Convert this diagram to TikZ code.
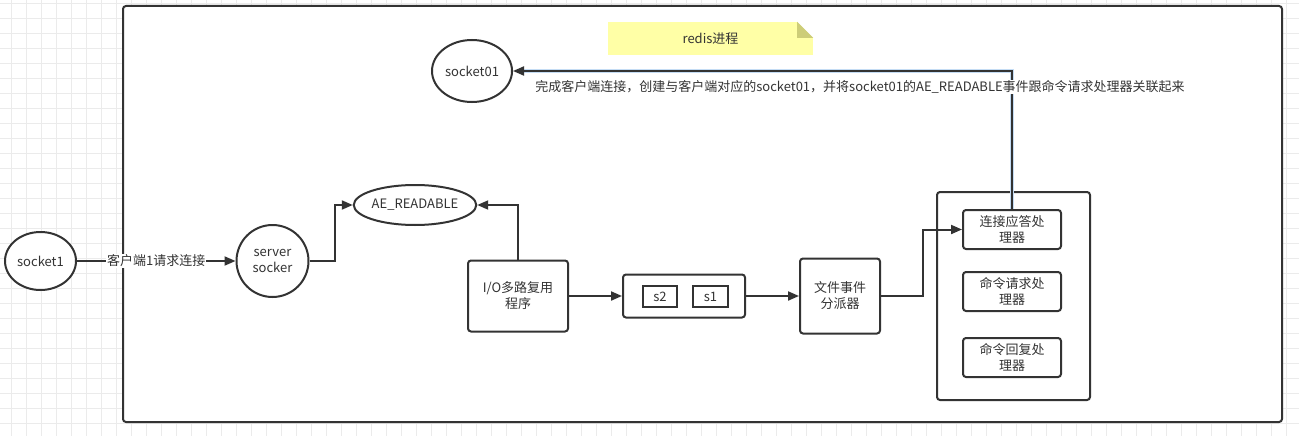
\documentclass[tikz,border=0pt]{standalone}
\usepackage{fontspec}
\setmainfont{Noto Sans CJK SC}
\usetikzlibrary{shapes.geometric,arrows.meta}

\definecolor{ink}{HTML}{333333}
\definecolor{gridc}{HTML}{EBEBEB}
\definecolor{notey}{HTML}{FFFFA6}
\definecolor{notefold}{HTML}{CDCD78}
\definecolor{selblue}{HTML}{C4DCF4}

\tikzset{
  oval/.style={ellipse, draw=ink, line width=2pt, inner sep=0pt, text=ink, fill=white, align=center},
  proc/.style={rectangle, rounded corners=3pt, draw=ink, line width=2pt, inner sep=0pt, text=ink, fill=white, align=center},
  notebox/.style={rectangle, fill=notey, inner sep=0pt, text=ink},
  lbl/.style={fill=white, inner sep=1pt, text=ink},
  link/.style={draw=ink, line width=2pt, -{Triangle[length=11pt,width=9pt]}},
  gridline/.style={gridc, line width=0.8pt},
}

\begin{document}
\begin{tikzpicture}[x=1pt,y=-1pt,font=\fontsize{13}{16}\selectfont]

\useasboundingbox (0,0) rectangle (1299,436);

\foreach \gx in {11.7,26.7,...,1299} \draw[gridline] (\gx,0) -- (\gx,436);
\foreach \gy in {3.3,18.3,...,436} \draw[gridline] (0,\gy) -- (1299,\gy);

% process frame
\node[proc, minimum width=1159pt, minimum height=416pt] (redis) at (702.5,214) {};

\node[notebox, minimum width=205pt, minimum height=33pt] (note) at (710.5,38.5) {redis进程};
\fill[white] (note.north east) -- ++(-16,0) -- ++(16,16) -- cycle;
\fill[notefold] (note.north east) ++(-16,0) -- ++(0,16) -- ++(16,0) -- cycle;

\node[oval, minimum width=71pt, minimum height=58pt] (socket1) at (40.5,261) {socket1};
\node[oval, circle, minimum size=72pt] (server) at (272.5,261) {server\\socker};
\node[oval, minimum width=116pt, minimum height=40pt] (aer) at (415,205) {AE\_READABLE};
\node[oval, minimum width=80pt, minimum height=62pt] (socket01) at (472,71) {socket01};

\node[proc, minimum width=100pt, minimum height=71pt] (io) at (518,296) {I/O多路复用\\程序};
\node[proc, minimum width=122pt, minimum height=43pt] (sq) at (684,296) {};
\node[proc, rounded corners=0pt, minimum width=34pt, minimum height=21pt] (s2) at (660,296.5) {s2};
\node[proc, rounded corners=0pt, minimum width=35pt, minimum height=21pt] (s1) at (710.5,296.5) {s1};
\node[proc, minimum width=80pt, minimum height=75pt] (disp) at (840,296) {文件事件\\分派器};

\node[proc, minimum width=153pt, minimum height=208pt] (hnd) at (1013.5,296) {};
\node[proc, minimum width=98pt, minimum height=39pt] (h1) at (1012,229.5) {连接应答处\\理器};
\node[proc, minimum width=98pt, minimum height=39pt] (h2) at (1012,291.5) {命令请求处\\理器};
\node[proc, minimum width=98pt, minimum height=39pt] (h3) at (1012,357.5) {命令回复处\\理器};

\draw[link] (socket1) -- node[lbl] (req) {客户端1请求连接} (server);
\draw[link] (server.east) -- ++(25,0) |- (aer.west);
\draw[link] (io.north) |- (aer.east);
\draw[link] (io) -- (sq);
\draw[link] (sq) -- (disp);
\draw[link] (disp.east) -- ++(42,0) |- (h1.west);

\draw[selblue, line width=4.5pt, shorten >=10pt] (h1.north) |- (socket01.east);
\draw[link] (h1.north) |- (socket01.east);
\node[lbl] (accept) at (860,87) {完成客户端连接，创建与客户端对应的socket01，并将socket01的AE\_READABLE事件跟命令请求处理器关联起来};

\end{tikzpicture}
\end{document}
